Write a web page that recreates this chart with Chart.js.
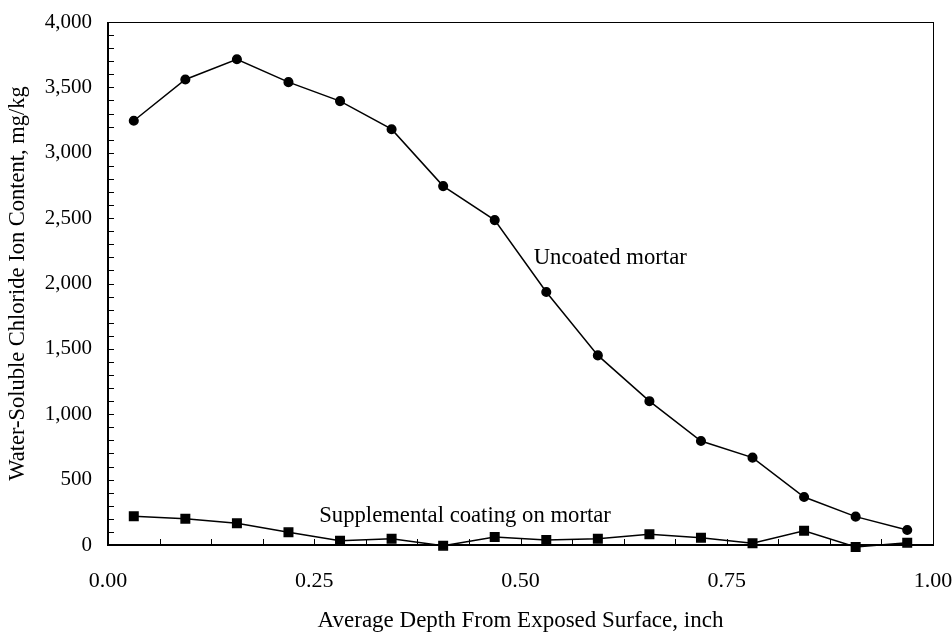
<!DOCTYPE html>
<html>
<head>
<meta charset="utf-8">
<script src="https://cdn.jsdelivr.net/npm/chart.js"></script>
<style>
  html, body { margin: 0; padding: 0; background: #fff; }
  #wrap { width: 952px; height: 637px; }
</style>
</head>
<body>
<div id="wrap"><canvas id="chloride-chart" width="952" height="637"></canvas></div>
<script>
// depth of each slice (centre of 1/16 inch layers)
const depths = [0.03125, 0.09375, 0.15625, 0.21875, 0.28125, 0.34375, 0.40625, 0.46875,
                0.53125, 0.59375, 0.65625, 0.71875, 0.78125, 0.84375, 0.90625, 0.96875];
const uncoated = [3245, 3560, 3715, 3540, 3395, 3180, 2745, 2485,
                  1935, 1450, 1100, 795, 668, 367, 217, 115];
const coated = [220, 201, 166, 97, 33, 48, -5, 61,
                38, 48, 82, 56, 13, 109, -15, 18];
const xTicks = [0, 0.25, 0.5, 0.75, 1];
const yTicks = [0, 500, 1000, 1500, 2000, 2500, 3000, 3500, 4000];
const seriesLabels = [
    { text: 'Uncoated mortar', x: 0.516, y: 2150 },
    { text: 'Supplemental coating on mortar', x: 0.256, y: 178 }
];

const FONT = "'Liberation Serif', 'Times New Roman', serif";

function toPoints(values) {
    return depths.map((d, i) => ({ x: d, y: values[i] }));
}

// frame, inward minor ticks and the in-plot labels
const framePlugin = {
    id: 'frame',
    afterDatasetsDraw(chart) {
        const { ctx, chartArea: a, scales: { x, y } } = chart;
        ctx.save();
        ctx.strokeStyle = '#000';
        ctx.lineWidth = 1;
        ctx.strokeRect(a.left + 0.5, a.top + 0.5, a.right - a.left, a.bottom - a.top);
        ctx.lineWidth = 2;
        ctx.beginPath();
        ctx.moveTo(a.left, a.top);
        ctx.lineTo(a.left, a.bottom);
        ctx.lineTo(a.right, a.bottom);
        ctx.stroke();

        ctx.lineWidth = 1;
        ctx.beginPath();
        for (let v = 0.0625; v < 1; v += 0.0625) {
            const px = Math.round(x.getPixelForValue(v)) + 0.5;
            ctx.moveTo(px, a.bottom);
            ctx.lineTo(px, a.bottom - 6);
        }
        for (let v = 100; v < 4000; v += 100) {
            const py = Math.round(y.getPixelForValue(v)) + 0.5;
            ctx.moveTo(a.left, py);
            ctx.lineTo(a.left + 6, py);
        }
        ctx.stroke();

        ctx.fillStyle = '#000';
        ctx.font = '22.7px ' + FONT;
        ctx.textBaseline = 'alphabetic';
        ctx.textAlign = 'left';
        seriesLabels.forEach(l => {
            ctx.fillText(l.text, x.getPixelForValue(l.x), y.getPixelForValue(l.y));
        });
        ctx.restore();
    }
};

const ctx = document.getElementById('chloride-chart').getContext('2d');
new Chart(ctx, {
    type: 'line',
    data: {
        datasets: [
            {
                label: 'Uncoated mortar',
                data: toPoints(uncoated),
                borderColor: '#000',
                backgroundColor: '#000',
                borderWidth: 1.5,
                pointStyle: 'circle',
                pointRadius: 4.3,
                clip: false
            },
            {
                label: 'Supplemental coating on mortar',
                data: toPoints(coated),
                borderColor: '#000',
                backgroundColor: '#000',
                borderWidth: 1.5,
                pointStyle: 'rect',
                pointRadius: 6,
                clip: false
            }
        ]
    },
    plugins: [framePlugin],
    options: {
        responsive: false,
        animation: false,
        layout: { padding: { top: 22, right: 19, left: 0, bottom: 0 } },
        plugins: { legend: { display: false }, tooltip: { enabled: false } },
        scales: {
            x: {
                type: 'linear',
                min: 0,
                max: 1,
                afterBuildTicks: s => { s.ticks = xTicks.map(v => ({ value: v })); },
                afterFit: s => { s.height = 92; s.paddingLeft = 0; s.paddingRight = 0; },
                grid: { display: false, drawTicks: false },
                border: { display: false },
                ticks: {
                    color: '#000',
                    padding: 23,
                    maxRotation: 0,
                    font: { family: FONT, size: 22 },
                    callback: v => v.toFixed(2)
                },
                title: {
                    display: true,
                    text: 'Average Depth From Exposed Surface, inch',
                    color: '#000',
                    padding: { top: 0, bottom: 2 },
                    font: { family: FONT, size: 23 }
                }
            },
            y: {
                type: 'linear',
                min: 0,
                max: 4000,
                afterBuildTicks: s => { s.ticks = yTicks.map(v => ({ value: v })); },
                afterFit: s => { s.width = 108; s.paddingTop = 0; s.paddingBottom = 0; },
                grid: { display: false, drawTicks: false },
                border: { display: false },
                ticks: {
                    color: '#000',
                    padding: 16,
                    font: { family: FONT, size: 21 },
                    callback: v => v.toLocaleString('en-US')
                },
                title: {
                    display: true,
                    text: 'Water-Soluble Chloride Ion Content, mg/kg',
                    color: '#000',
                    padding: { top: 5, bottom: 0 },
                    font: { family: FONT, size: 22.5 }
                }
            }
        }
    }
});
</script>
</body>
</html>
